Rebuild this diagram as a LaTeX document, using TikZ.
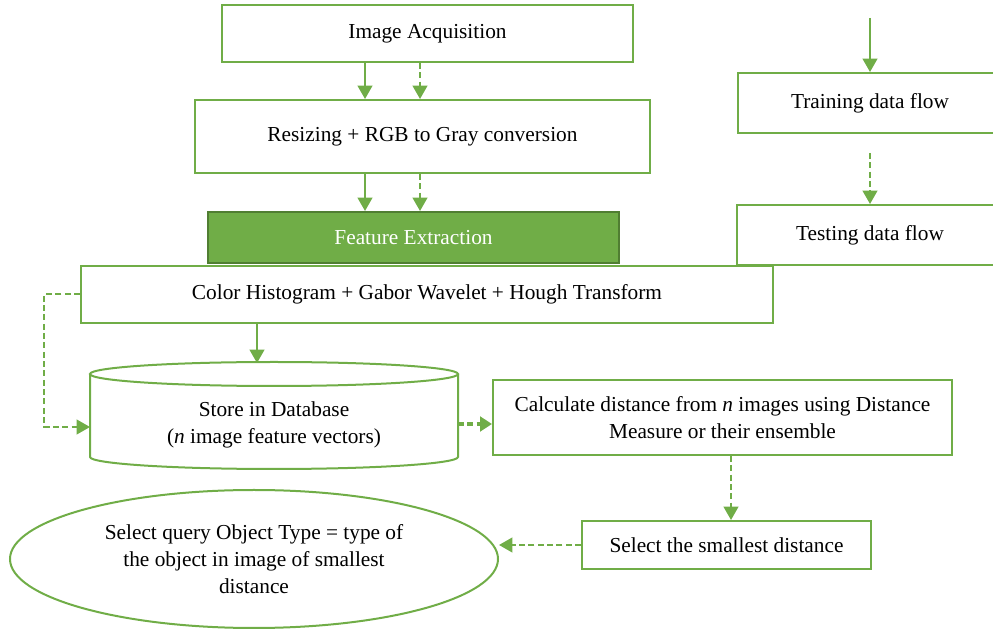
\documentclass[tikz,border=0pt]{standalone}
\usepackage{fontspec}
\setmainfont{Liberation Serif}
\usetikzlibrary{arrows.meta,shapes.geometric}
\definecolor{leaf}{RGB}{112,173,71}
\definecolor{darkleaf}{RGB}{80,126,50}
\begin{document}
\begin{tikzpicture}[x=0.75pt,y=-0.75pt,
	box/.style={draw=leaf,line width=1.5pt,rectangle,align=center,font=\fontsize{16}{20}\selectfont},
	train/.style={draw=leaf,line width=1.5pt,-{Triangle[width=11pt,length=10pt]}},
	test/.style={train,dash pattern=on 4.5pt off 2.5pt}]

	\useasboundingbox (0,0) rectangle (993,630);

	% Pipeline
	\node[box,minimum width=411*0.75pt,minimum height=57*0.75pt] (acq) at (427.5,33.5) {Image Acquisition};
	\node[box,minimum width=455*0.75pt,minimum height=73*0.75pt] (resize) at (422.5,136.5) {Resizing + RGB to Gray conversion};
	\node[box,fill=leaf,draw=darkleaf,text=white,minimum width=411*0.75pt,minimum height=51*0.75pt] (feat) at (413.5,237.5) {Feature Extraction};
	\node[box,minimum width=692*0.75pt,minimum height=57*0.75pt] (hist) at (427,294.5) {Color Histogram + Gabor Wavelet + Hough Transform};

	\coordinate (solidx) at (365,0);
	\coordinate (dashx) at (420,0);
	\draw[train] (acq.south -| solidx) -- (resize.north -| solidx);
	\draw[test] (acq.south -| dashx) -- (resize.north -| dashx);
	\draw[train] (resize.south -| solidx) -- (feat.north -| solidx);
	\draw[test] (resize.south -| dashx) -- (feat.north -| dashx);

	% Database
	\draw[leaf,line width=1.5pt] (274,374) ellipse [x radius=138pt,y radius=9pt];
	\draw[leaf,line width=1.5pt] (90,374) -- (90,457) arc[start angle=180,end angle=360,x radius=138pt,y radius=9pt] -- (458,374);
	\node[align=center,font=\fontsize{16}{20}\selectfont] (db) at (274,425) {Store in Database\\(\textit{n} image feature vectors)};
	\coordinate (dbtop) at (257,363);
	\coordinate (dbleft) at (90,427);
	\coordinate (dbright) at (458,424);

	\draw[train] (hist.south -| dbtop) -- (dbtop);
	\draw[test] (hist.west) -- ++(-36,0) |- (dbleft);

	% Matching
	\node[box,minimum width=459*0.75pt,minimum height=75*0.75pt] (calc) at (722.5,417.5) {Calculate distance from \textit{n} images using Distance\\Measure or their ensemble};
	\node[box,minimum width=289*0.75pt,minimum height=48*0.75pt] (small) at (726.5,545) {Select the smallest distance};
	\node[box,ellipse,inner sep=0pt,minimum width=488*0.75pt,minimum height=138*0.75pt] (result) at (254,559) {Select query Object Type = type of\\the object in image of smallest\\distance};

	\draw[test,line width=3pt,-{Triangle[width=11pt,length=9pt]}] (dbright) -- (calc.west |- dbright);
	\draw[test] (calc.south -| 731,0) -- (small.north -| 731,0);
	\draw[test] (small.west) -- (result.east |- small.west);

	% Legend
	\node[box,minimum width=264*0.75pt,minimum height=60*0.75pt] (trainbox) at (870,103) {Training data flow};
	\node[box,minimum width=266*0.75pt,minimum height=60*0.75pt] (testbox) at (870,235) {Testing data flow};
	\coordinate (trainin) at (870,18);
	\coordinate (testin) at (870,153);
	\draw[train] (trainin) -- (trainbox.north);
	\draw[test] (testin) -- (testbox.north);

\end{tikzpicture}
\end{document}
